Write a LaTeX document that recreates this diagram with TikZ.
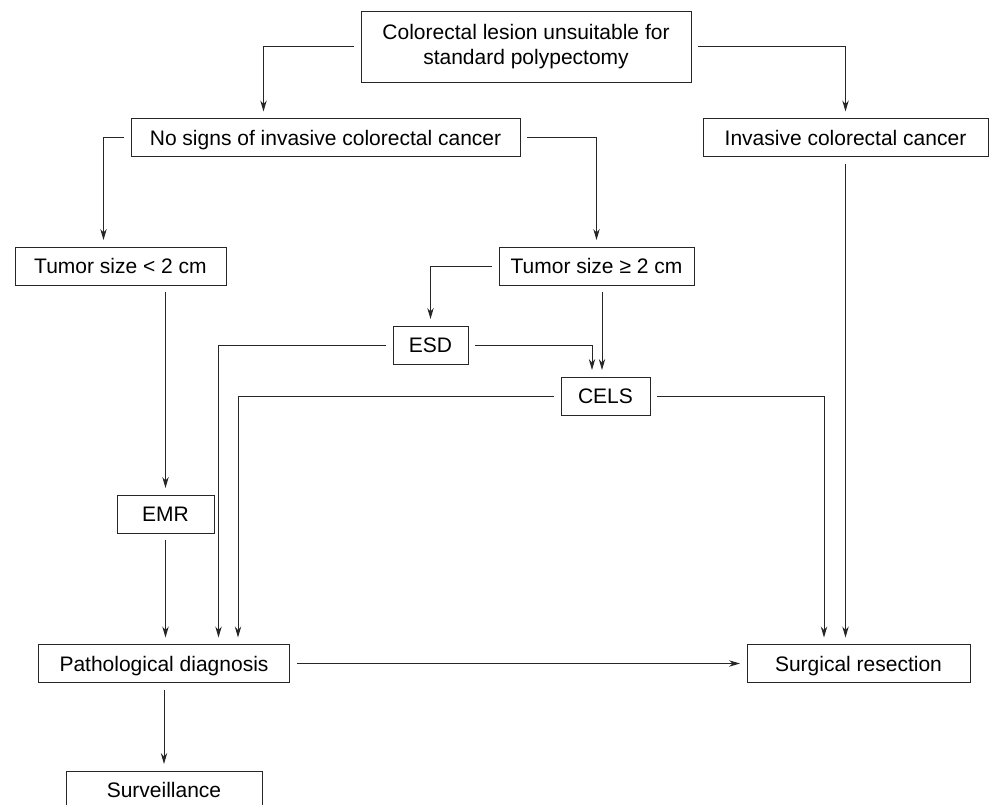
\documentclass[tikz,border=0pt]{standalone}
\usepackage{fontspec}
\setmainfont{Liberation Sans}
\usepackage{tikz}
\usetikzlibrary{arrows.meta, positioning, calc}

\begin{document}
\begin{tikzpicture}[x=0.5pt, y=-0.5pt,
  boxbase/.style={draw=black!85, line width=0.5pt, minimum height=19pt,
        inner sep=2pt, outer sep=3.5pt, align=center,
        font=\fontsize{10.5}{12.5}\selectfont},
  flowbox/.style={boxbase, text height=7.5pt, text depth=0pt},
  arr/.style={-{Stealth[length=5.5pt, width=3.2pt]}, draw=black!85, line width=0.5pt}]
  \useasboundingbox (0,0) rectangle (990,804);
  \node[boxbase, minimum width=165pt, minimum height=35.5pt] (lesion) at (526,46.5)
        {Colorectal lesion unsuitable for\\standard polypectomy};
  \node[flowbox, minimum width=194.5pt] (nosign) at (325.5,137.5) {No signs of invasive colorectal cancer};
  \node[flowbox, minimum width=142.5pt] (invasive) at (845.5,137.5) {Invasive colorectal cancer};
  \node[flowbox, minimum width=105.5pt] (small) at (120.5,266) {Tumor size < 2 cm};
  \node[flowbox, minimum width=97.5pt] (large) at (596.5,266) {Tumor size ≥ 2 cm};
  \node[flowbox, minimum width=37.5pt] (esd) at (430.5,345) {ESD};
  \node[flowbox, minimum width=44.5pt] (cels) at (605.5,396) {CELS};
  \node[flowbox, minimum width=48.5pt] (emr) at (165.5,514) {EMR};
  \node[flowbox, minimum width=125.5pt] (patho) at (164,663.5) {Pathological diagnosis};
  \node[flowbox, minimum width=111.5pt] (surg) at (858.5,663.5) {Surgical resection};
  \node[flowbox, minimum width=98pt] (surv) at (164,790) {Surveillance};
  % first split
  \draw[arr] (lesion.west) -| ($(nosign.north)+(-62,0)$);
  \draw[arr] (lesion.east) -| (invasive.north);
  \draw[arr] (nosign.west) -| ($(small.north)+(-17,0)$);
  \draw[arr] (nosign.east) -| (large.north);
  % large lesions
  \draw[arr] (large.west) -| (esd.north);
  \draw[arr] ($(large.south)+(5.5,0)$) -- ($(cels.north)+(-3.5,0)$);
  \draw[arr] (esd.east) -| ($(cels.north)+(-13.5,0)$);
  \draw[arr] (esd.west) -| ($(patho.north)+(54.5,0)$);
  \draw[arr] (cels.west) -| ($(patho.north)+(74,0)$);
  \draw[arr] (cels.east) -| ($(surg.north)+(-34.5,0)$);
  \draw[arr] (invasive.south) -- (invasive.south |- surg.north);
  % small lesions
  \draw[arr] (small.south -| emr.north) -- (emr.north);
  \draw[arr] (emr.south) -- (emr.south |- patho.north);
  \draw[arr] (patho.east) -- (surg.west);
  \draw[arr] (patho.south) -- (surv.north);
\end{tikzpicture}
\end{document}
